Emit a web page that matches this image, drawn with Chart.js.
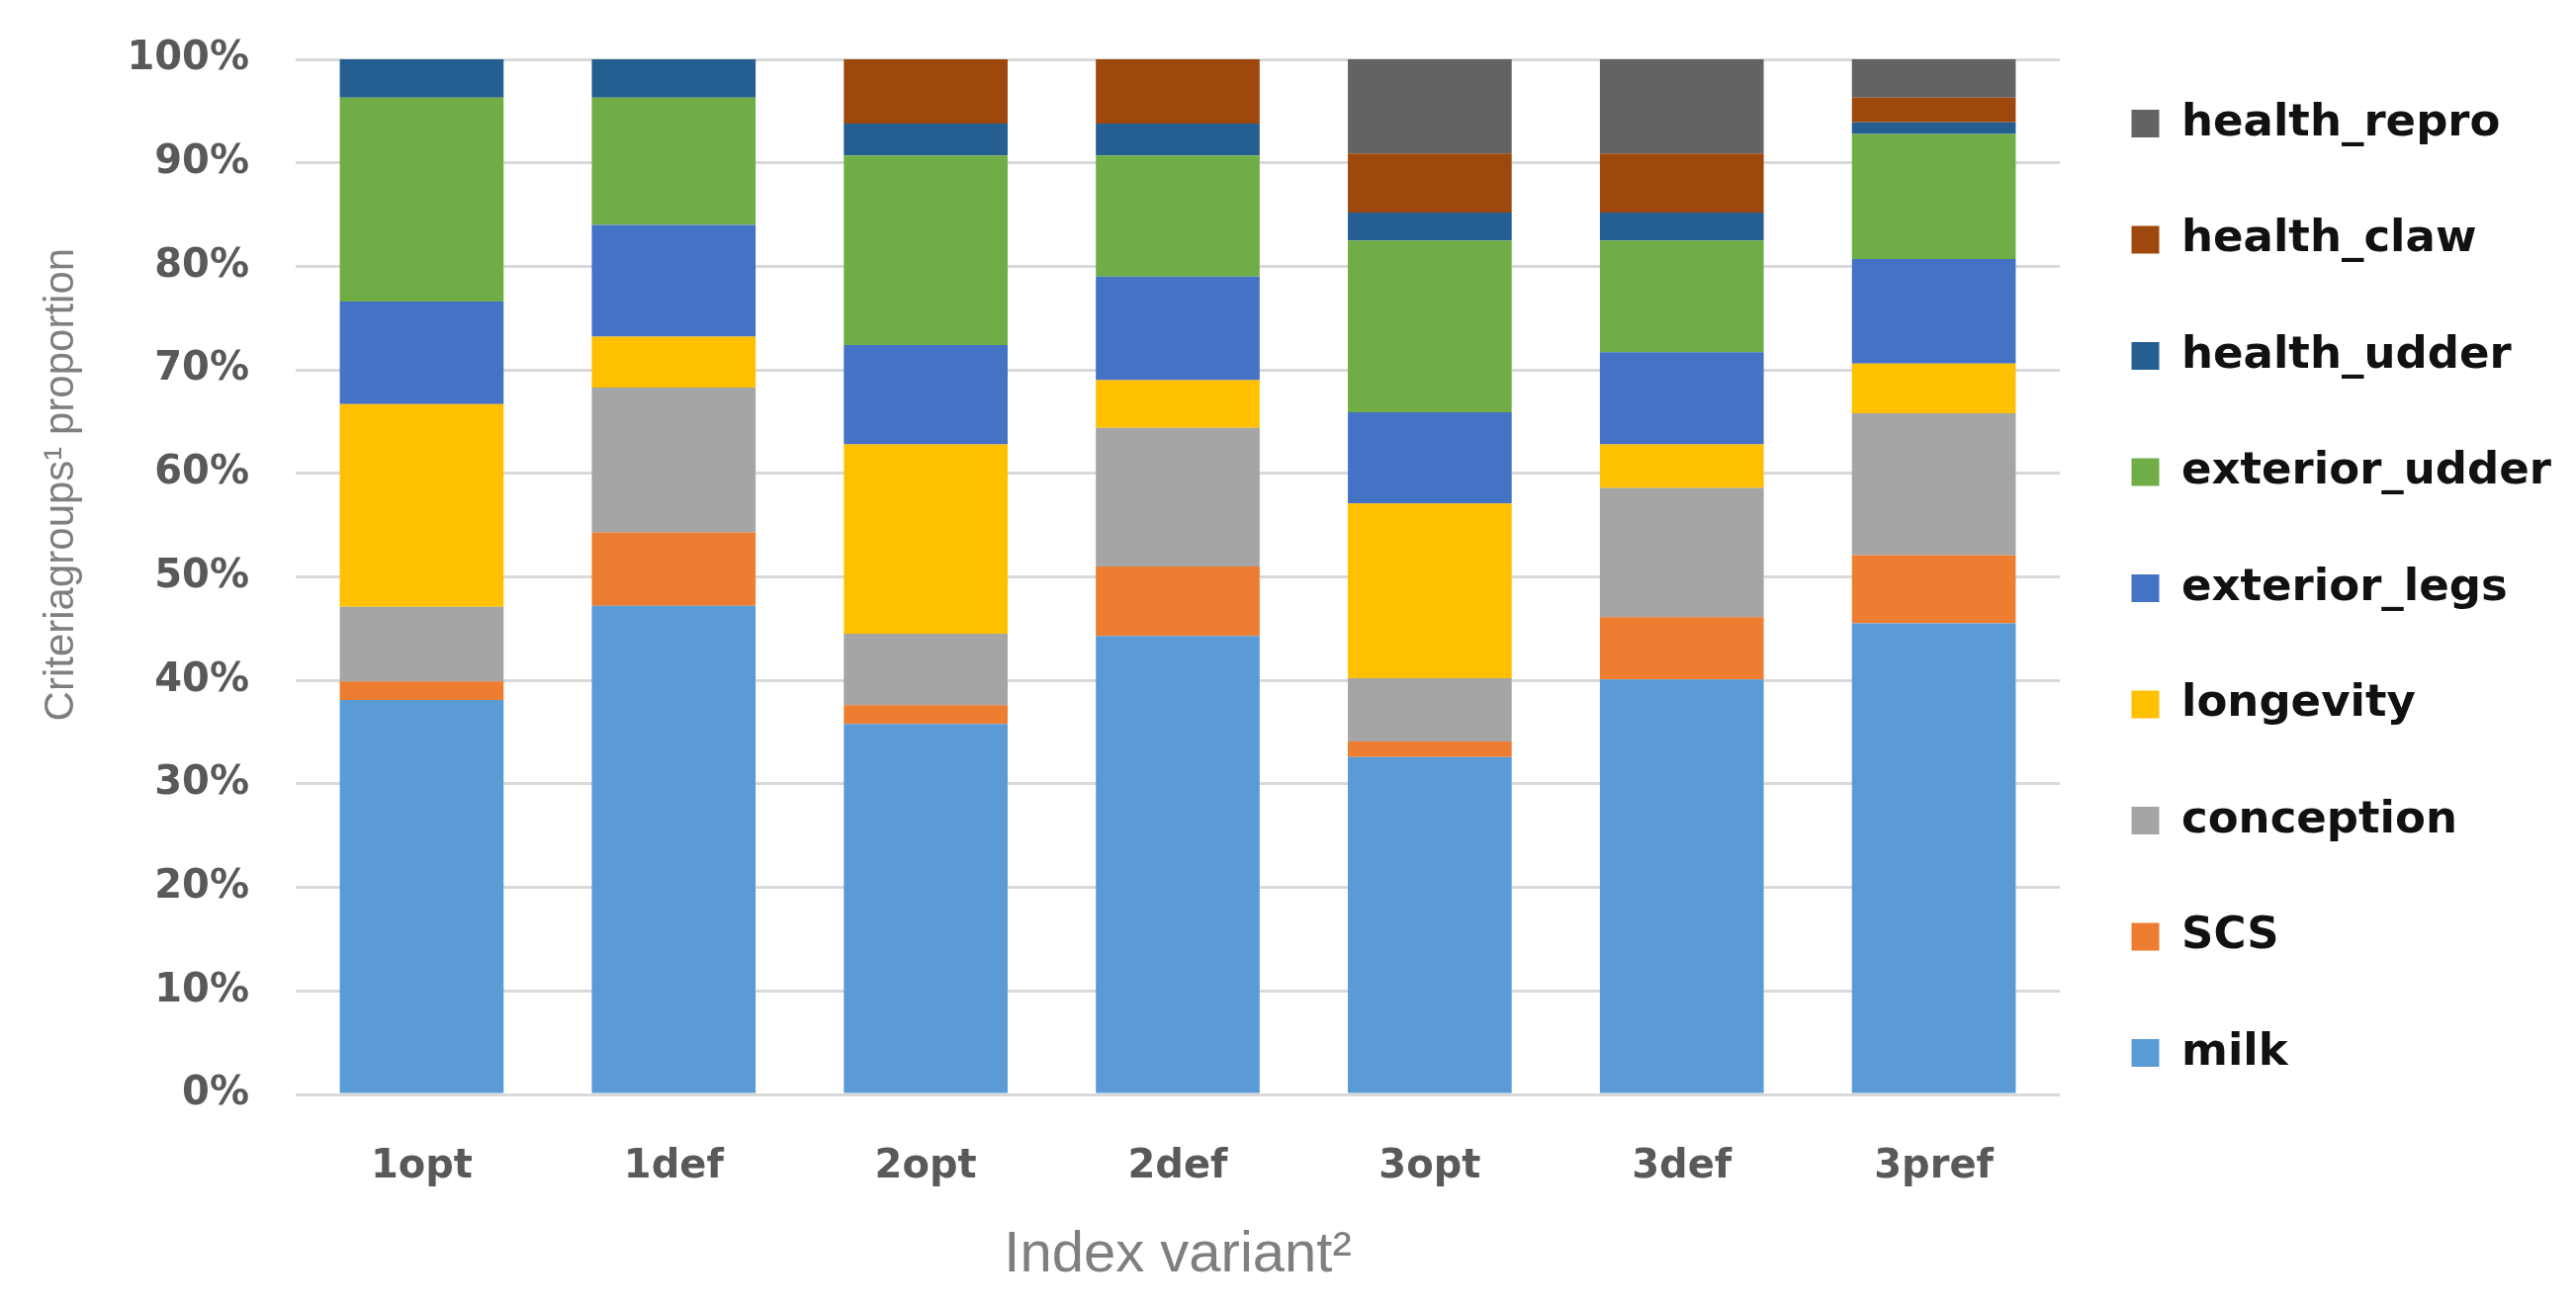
<!DOCTYPE html>
<html>
<head>
<meta charset="utf-8">
<script src="https://cdn.jsdelivr.net/npm/chart.js@4/dist/chart.umd.min.js"></script>
<style>
  html, body { margin: 0; padding: 0; background: #ffffff; }
  #wrap { width: 2605px; height: 1323px; }
</style>
</head>
<body>
<div id="wrap"><canvas id="c" width="2605" height="1323"></canvas></div>
<script>
// Categories (index variants)
const categories = ['1opt', '1def', '2opt', '2def', '3opt', '3def', '3pref'];

// Series values (% of criteria groups), bottom to top
const milk          = [38.1, 47.2, 35.8, 44.3, 32.6, 40.1, 45.5];
const scs           = [ 1.8,  7.1,  1.8,  6.7,  1.5,  6.0,  6.6];
const conception    = [ 7.2, 14.0,  6.9, 13.4,  6.1, 12.5, 13.7];
const longevity     = [19.6,  4.9, 18.3,  4.6, 16.9,  4.2,  4.8];
const exteriorLegs  = [ 9.9, 10.8,  9.6, 10.0,  8.8,  8.9, 10.1];
const exteriorUdder = [19.7, 12.3, 18.3, 11.7, 16.6, 10.8, 12.1];
const healthUdder   = [ 3.7,  3.7,  3.1,  3.1,  2.7,  2.7,  1.1];
const healthClaw    = [ 0.0,  0.0,  6.2,  6.2,  5.7,  5.7,  2.4];
const healthRepro   = [ 0.0,  0.0,  0.0,  0.0,  9.1,  9.1,  3.7];

const seriesNames = ['milk', 'SCS', 'conception', 'longevity', 'exterior_legs',
                     'exterior_udder', 'health_udder', 'health_claw', 'health_repro'];
const seriesData = [milk, scs, conception, longevity, exteriorLegs,
                    exteriorUdder, healthUdder, healthClaw, healthRepro];
const seriesColors = ['#5B9BD5', '#ED7D31', '#A5A5A5', '#FFC000', '#4472C4',
                      '#70AD47', '#255E91', '#9E480E', '#636363'];

// Y tick values
const yTicks = [0, 10, 20, 30, 40, 50, 60, 70, 80, 90, 100];

const bgPlugin = {
  id: 'bg',
  beforeDraw(chart) {
    const ctx = chart.ctx;
    ctx.save();
    ctx.fillStyle = '#ffffff';
    ctx.fillRect(0, 0, chart.width, chart.height);
    ctx.restore();
  }
};

const pad = '\u00A0'.repeat(16);

new Chart(document.getElementById('c'), {
  type: 'bar',
  data: {
    labels: categories,
    datasets: seriesNames.map((name, i) => ({
      label: name,
      data: seriesData[i],
      backgroundColor: seriesColors[i],
      borderWidth: 0,
      categoryPercentage: 1.0,
      barPercentage: 0.65
    }))
  },
  options: {
    responsive: false,
    devicePixelRatio: 1,
    animation: false,
    layout: { padding: { top: 30, right: 15, bottom: 0, left: 0 } },
    plugins: {
      title: {
        display: true,
        text: '',
        font: { size: 10, lineHeight: 1 },
        padding: { top: 0, bottom: 20 }
      },
      legend: {
        position: 'right',
        fullSize: true,
        align: 'start',
        reverse: true,
        labels: {
          boxWidth: 28,
          boxHeight: 28,
          padding: 72.5,
          color: '#111111',
          font: { family: 'DejaVu Sans', weight: 'bold', size: 45 }
        }
      },
      tooltip: { enabled: false }
    },
    scales: {
      x: {
        stacked: true,
        grid: { display: false, drawTicks: false },
        border: { display: false },
        ticks: {
          color: '#595959',
          padding: 50,
          font: { family: 'DejaVu Sans', weight: 'bold', size: 40 }
        },
        title: {
          display: true,
          text: 'Index variant\u00B2',
          color: '#7f7f7f',
          padding: { top: 0, bottom: 18 },
          font: { family: "'Liberation Sans', sans-serif", size: 58 }
        },
        afterFit(scale) { scale.height = 216; }
      },
      y: {
        stacked: true,
        min: 0,
        max: 100,
        afterBuildTicks(scale) { scale.ticks = yTicks.map(v => ({ value: v })); },
        grid: {
          color: '#d9d9d9',
          lineWidth: 3,
          drawTicks: true,
          tickLength: 47,
          tickColor: 'rgba(0,0,0,0)'
        },
        border: { display: false },
        ticks: {
          color: '#595959',
          padding: 0,
          font: { family: 'DejaVu Sans', weight: 'bold', size: 40 },
          callback: v => v + '%'
        },
        title: {
          display: true,
          text: pad + 'Criteriagroups\u00B9 proportion',
          color: '#7f7f7f',
          padding: { top: 37, bottom: 0 },
          font: { family: "'Liberation Sans', sans-serif", size: 42 }
        },
        afterFit(scale) { scale.width = 299; }
      }
    }
  },
  plugins: [bgPlugin]
});
</script>
</body>
</html>
